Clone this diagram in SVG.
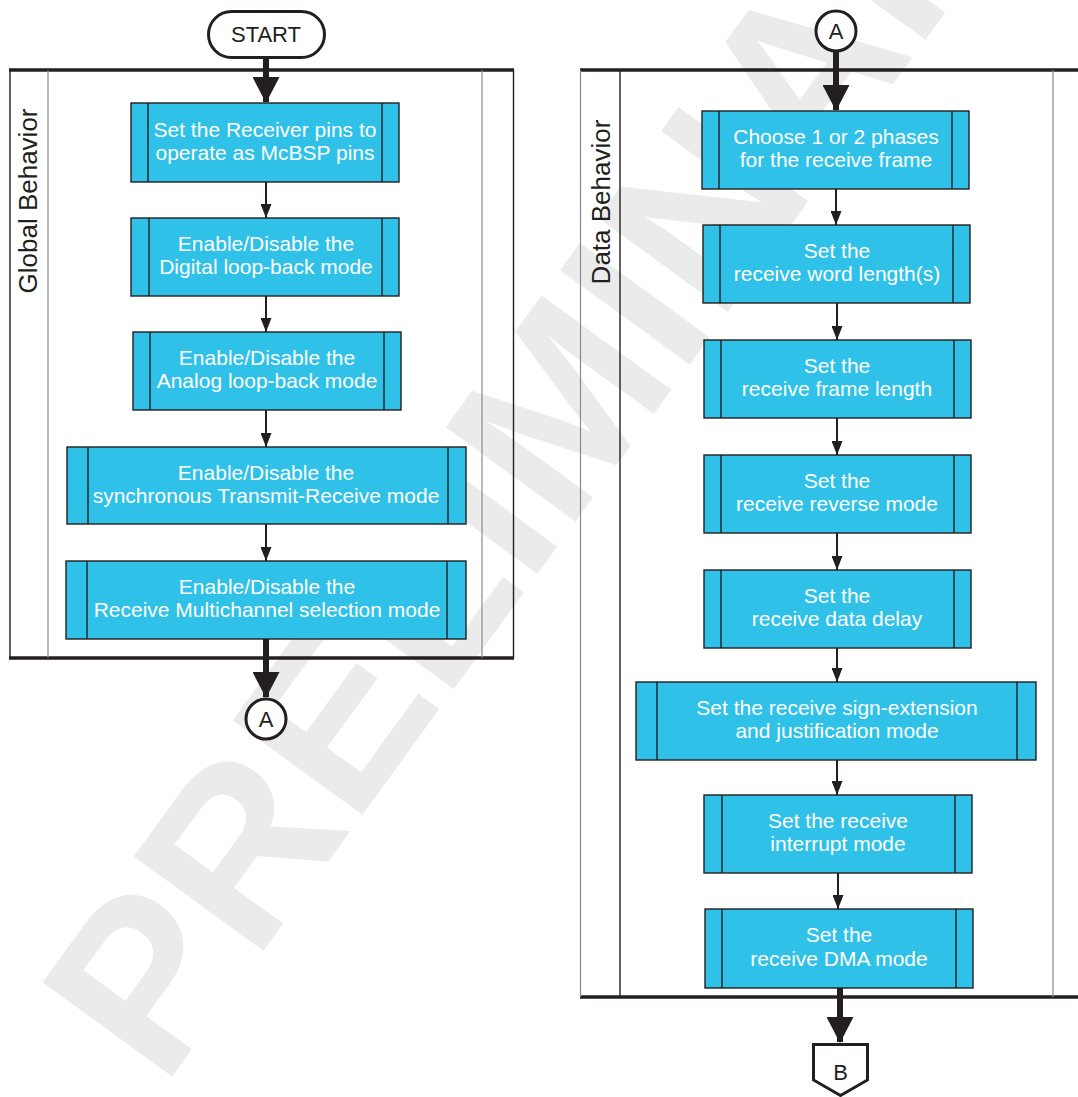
<svg xmlns="http://www.w3.org/2000/svg" width="1078" height="1097" viewBox="0 0 1078 1097">
<defs>
<style>
.wm{font-family:"Liberation Sans",Arial,sans-serif;font-weight:bold;fill:#ebebeb}
.box{fill:#30c1e8;stroke:#231f20;stroke-width:1.4}
.strip{stroke:#231f20;stroke-width:1.4}
.bt{font-family:"Liberation Sans",Arial,sans-serif;font-size:21px;fill:#ffffff;text-anchor:middle}
.lab{font-family:"Liberation Sans",Arial,sans-serif;font-size:26px;fill:#231f20;text-anchor:middle}
.ct{font-family:"Liberation Sans",Arial,sans-serif;font-size:22px;fill:#231f20;text-anchor:middle}
.thin{stroke:#231f20;stroke-width:2;fill:none}
.thick{stroke:#231f20;stroke-width:6;fill:none}
.term{fill:#ffffff;stroke:#231f20;stroke-width:3}
.lane{stroke:#231f20;stroke-width:3.4}
.bo{stroke:#231f20;stroke-width:1.4}
.bi{stroke:#8a8a8a;stroke-width:1.2}
</style>
<marker id="ah" markerUnits="userSpaceOnUse" markerWidth="14" markerHeight="11" refX="14" refY="5.5" orient="auto">
<path d="M0,0 L14,5.5 L0,11 Z" fill="#231f20"/>
</marker>
<marker id="AH" markerUnits="userSpaceOnUse" markerWidth="26" markerHeight="27" refX="25" refY="13.5" orient="auto">
<path d="M0,0 L26,13.5 L0,27 Z" fill="#231f20"/>
</marker>
</defs>
<rect width="1078" height="1097" fill="#ffffff"/>
<text class="wm" font-size="233" transform="translate(163,1089) rotate(-54)">PRELIMINARY</text>

<g id="lane-global">
<line class="lane" x1="9" y1="70" x2="514" y2="70"/>
<line class="lane" x1="9" y1="658" x2="514" y2="658"/>
<line class="bo" x1="10" y1="70" x2="10" y2="658"/>
<line class="bi" x1="48" y1="70" x2="48" y2="658"/>
<line class="bi" x1="482" y1="70" x2="482" y2="658"/>
<line class="bo" x1="513.5" y1="70" x2="513.5" y2="658"/>
<text class="lab" transform="translate(37,201) rotate(-90)">Global Behavior</text>
</g>

<g id="lane-data">
<line class="lane" x1="580" y1="70" x2="1078" y2="70"/>
<line class="lane" x1="580" y1="997" x2="1078" y2="997"/>
<line class="bi" x1="580.5" y1="70" x2="580.5" y2="997"/>
<line class="bo" x1="620" y1="70" x2="620" y2="997"/>
<line class="bi" x1="1053" y1="70" x2="1053" y2="997"/>
<text class="lab" transform="translate(610,202) rotate(-90)">Data Behavior</text>
</g>

<g id="connectors">
<line class="thick" x1="266" y1="58" x2="266" y2="102" marker-end="url(#AH)"/>
<line class="thin" x1="266" y1="182" x2="266" y2="218" marker-end="url(#ah)"/>
<line class="thin" x1="266" y1="296" x2="266" y2="332" marker-end="url(#ah)"/>
<line class="thin" x1="266" y1="410" x2="266" y2="447" marker-end="url(#ah)"/>
<line class="thin" x1="266" y1="524" x2="266" y2="561" marker-end="url(#ah)"/>
<line class="thick" x1="266" y1="639" x2="266" y2="697" marker-end="url(#AH)"/>
<line class="thick" x1="836" y1="52" x2="836" y2="110" marker-end="url(#AH)"/>
<line class="thin" x1="836" y1="189" x2="836" y2="225" marker-end="url(#ah)"/>
<line class="thin" x1="837" y1="303" x2="837" y2="340" marker-end="url(#ah)"/>
<line class="thin" x1="837" y1="418" x2="837" y2="455" marker-end="url(#ah)"/>
<line class="thin" x1="837" y1="533" x2="837" y2="570" marker-end="url(#ah)"/>
<line class="thin" x1="837" y1="648" x2="837" y2="682" marker-end="url(#ah)"/>
<line class="thin" x1="837" y1="760" x2="837" y2="795" marker-end="url(#ah)"/>
<line class="thin" x1="838" y1="873" x2="838" y2="909" marker-end="url(#ah)"/>
<line class="thick" x1="840" y1="988" x2="840" y2="1042" marker-end="url(#AH)"/>
</g>

<g id="start">
<rect class="term" x="208.5" y="11.5" width="116" height="46" rx="23"/>
<text class="ct" x="266" y="42" font-size="20">START</text>
</g>

<g id="g1">
<rect class="box" x="131" y="103" width="268" height="79"/>
<line class="strip" x1="148" y1="103" x2="148" y2="182"/><line class="strip" x1="382" y1="103" x2="382" y2="182"/>
<text class="bt" x="265" y="137">Set the Receiver pins to</text>
<text class="bt" x="265" y="160">operate as McBSP pins</text>
</g>
<g id="g2">
<rect class="box" x="131" y="218" width="268" height="78"/>
<line class="strip" x1="149" y1="218" x2="149" y2="296"/><line class="strip" x1="382" y1="218" x2="382" y2="296"/>
<text class="bt" x="266" y="251">Enable/Disable the</text>
<text class="bt" x="266" y="274">Digital loop-back mode</text>
</g>
<g id="g3">
<rect class="box" x="133" y="332" width="268" height="78"/>
<line class="strip" x1="150" y1="332" x2="150" y2="410"/><line class="strip" x1="384" y1="332" x2="384" y2="410"/>
<text class="bt" x="267" y="365">Enable/Disable the</text>
<text class="bt" x="267" y="388">Analog loop-back mode</text>
</g>
<g id="g4">
<rect class="box" x="67" y="447" width="399" height="77"/>
<line class="strip" x1="88" y1="447" x2="88" y2="524"/><line class="strip" x1="448" y1="447" x2="448" y2="524"/>
<text class="bt" x="266" y="480">Enable/Disable the</text>
<text class="bt" x="266" y="503">synchronous Transmit-Receive mode</text>
</g>
<g id="g5">
<rect class="box" x="66" y="561" width="400" height="78"/>
<line class="strip" x1="87" y1="561" x2="87" y2="639"/><line class="strip" x1="447" y1="561" x2="447" y2="639"/>
<text class="bt" x="267" y="594">Enable/Disable the</text>
<text class="bt" x="267" y="617">Receive Multichannel selection mode</text>
</g>
<g id="connA1">
<circle class="term" cx="266" cy="719" r="20"/>
<text class="ct" x="266" y="727">A</text>
</g>

<g id="connA2">
<circle class="term" cx="836" cy="31" r="20"/>
<text class="ct" x="836" y="39">A</text>
</g>
<g id="d1">
<rect class="box" x="702" y="111" width="267" height="78"/>
<line class="strip" x1="719" y1="111" x2="719" y2="189"/><line class="strip" x1="952" y1="111" x2="952" y2="189"/>
<text class="bt" x="836" y="144">Choose 1 or 2 phases</text>
<text class="bt" x="836" y="167">for the receive frame</text>
</g>
<g id="d2">
<rect class="box" x="703" y="225" width="267" height="78"/>
<line class="strip" x1="720" y1="225" x2="720" y2="303"/><line class="strip" x1="953" y1="225" x2="953" y2="303"/>
<text class="bt" x="837" y="258">Set the</text>
<text class="bt" x="837" y="281">receive word length(s)</text>
</g>
<g id="d3">
<rect class="box" x="704" y="340" width="267" height="78"/>
<line class="strip" x1="721" y1="340" x2="721" y2="418"/><line class="strip" x1="954" y1="340" x2="954" y2="418"/>
<text class="bt" x="837" y="373">Set the</text>
<text class="bt" x="837" y="396">receive frame length</text>
</g>
<g id="d4">
<rect class="box" x="704" y="455" width="267" height="78"/>
<line class="strip" x1="721" y1="455" x2="721" y2="533"/><line class="strip" x1="954" y1="455" x2="954" y2="533"/>
<text class="bt" x="837" y="488">Set the</text>
<text class="bt" x="837" y="511">receive reverse mode</text>
</g>
<g id="d5">
<rect class="box" x="704" y="570" width="267" height="78"/>
<line class="strip" x1="721" y1="570" x2="721" y2="648"/><line class="strip" x1="954" y1="570" x2="954" y2="648"/>
<text class="bt" x="837" y="603">Set the</text>
<text class="bt" x="837" y="626">receive data delay</text>
</g>
<g id="d6">
<rect class="box" x="636" y="682" width="400" height="78"/>
<line class="strip" x1="657" y1="682" x2="657" y2="760"/><line class="strip" x1="1017" y1="682" x2="1017" y2="760"/>
<text class="bt" x="837" y="715">Set the receive sign-extension</text>
<text class="bt" x="837" y="738">and justification mode</text>
</g>
<g id="d7">
<rect class="box" x="704" y="795" width="268" height="78"/>
<line class="strip" x1="722" y1="795" x2="722" y2="873"/><line class="strip" x1="955" y1="795" x2="955" y2="873"/>
<text class="bt" x="838" y="828">Set the receive</text>
<text class="bt" x="838" y="851">interrupt mode</text>
</g>
<g id="d8">
<rect class="box" x="705" y="909" width="268" height="79"/>
<line class="strip" x1="722" y1="909" x2="722" y2="988"/><line class="strip" x1="956" y1="909" x2="956" y2="988"/>
<text class="bt" x="839" y="942">Set the</text>
<text class="bt" x="839" y="966">receive DMA mode</text>
</g>
<g id="connB">
<path class="term" d="M813.5,1044.5 H867.5 V1080 L840.5,1095.5 L813.5,1080 Z"/>
<text class="ct" x="840.5" y="1080">B</text>
</g>
</svg>
